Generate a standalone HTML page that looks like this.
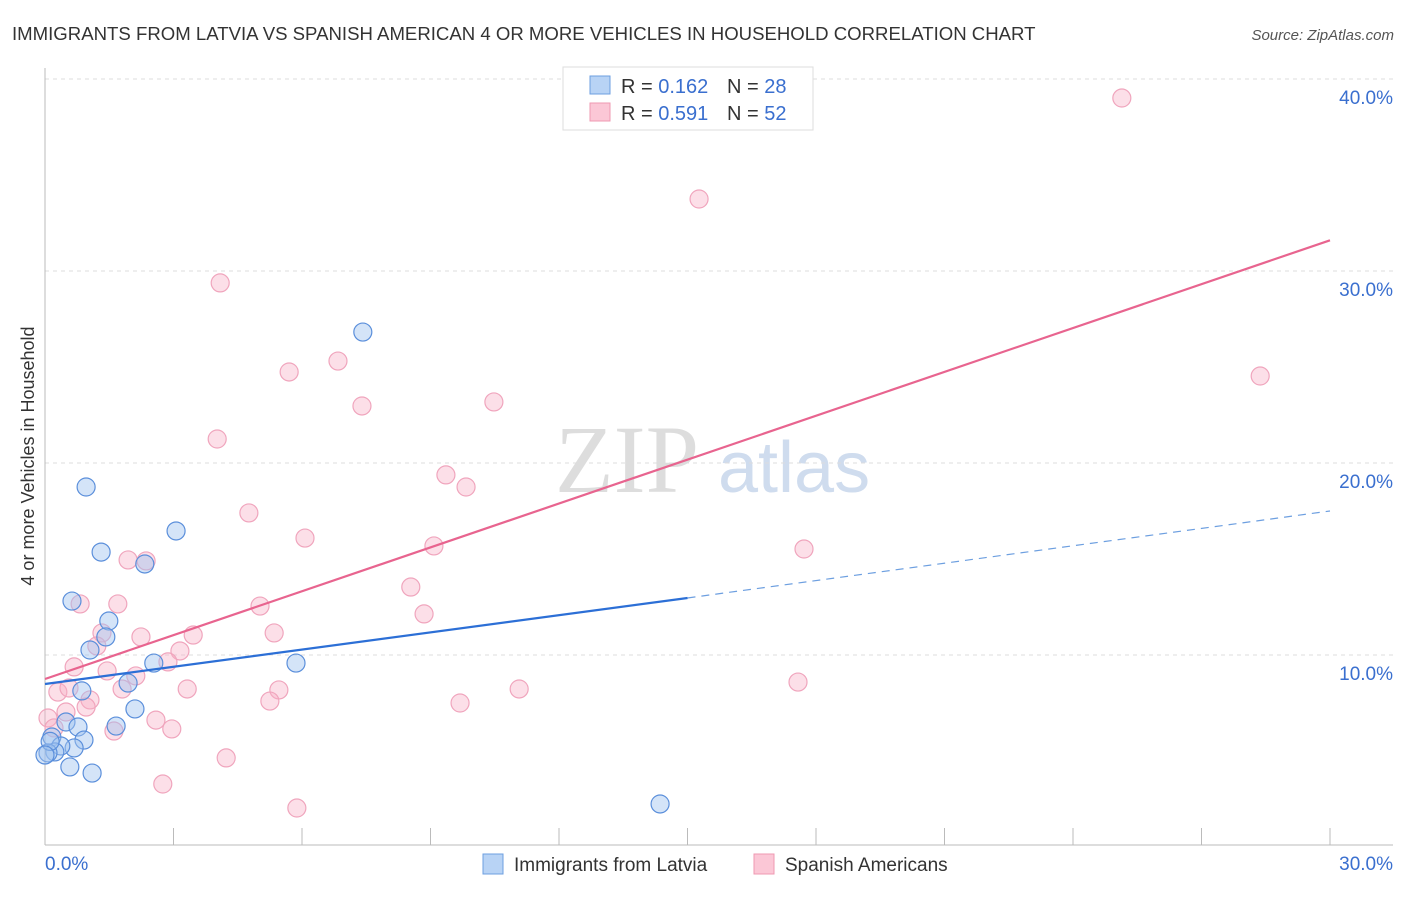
<!DOCTYPE html>
<html><head><meta charset="utf-8"><style>
body{margin:0;background:#fff;font-family:"Liberation Sans",sans-serif;}
</style></head><body>
<svg id="c" width="1406" height="892" xmlns="http://www.w3.org/2000/svg">
<text x="12" y="40" font-size="18.6" fill="#333">IMMIGRANTS FROM LATVIA VS SPANISH AMERICAN 4 OR MORE VEHICLES IN HOUSEHOLD CORRELATION CHART</text>
<text x="1394" y="40" font-size="15" fill="#555" font-style="italic" text-anchor="end">Source: ZipAtlas.com</text>
<text x="34" y="456" font-size="18" fill="#333" text-anchor="middle" transform="rotate(-90 34 456)">4 or more Vehicles in Household</text>
<text x="555" y="492" font-size="96" fill="#ddd" font-family="Liberation Serif,serif">ZIP</text>
<text x="718" y="492" font-size="72" fill="#cfdcee">atlas</text>
<g id="grid"></g><g id="marks"></g>
<g>
<rect x="563" y="67" width="250" height="63" fill="#fff" stroke="#ddd"/>
<rect x="590" y="76" width="20" height="18" fill="#b8d3f5" stroke="#6d9fe0"/>
<rect x="590" y="103" width="20" height="18" fill="#fbc7d6" stroke="#ef98b2"/>
<text x="621" y="93" font-size="20" fill="#333">R = <tspan fill="#3a6fcf">0.162</tspan><tspan x="727">N = </tspan><tspan fill="#3a6fcf">28</tspan></text>
<text x="621" y="120" font-size="20" fill="#333">R = <tspan fill="#3a6fcf">0.591</tspan><tspan x="727">N = </tspan><tspan fill="#3a6fcf">52</tspan></text>
</g>
<g>
<rect x="483" y="854" width="20" height="20" fill="#b8d3f5" stroke="#6d9fe0"/>
<text x="514" y="871" font-size="19" fill="#333">Immigrants from Latvia</text>
<rect x="754" y="854" width="20" height="20" fill="#fbc7d6" stroke="#ef98b2"/>
<text x="785" y="871" font-size="19" fill="#333">Spanish Americans</text>
</g>
</svg>
<script>
const blueX=[0.96,3.06,1.31,2.33,0.63,1.49,1.42,1.05,2.54,5.86,1.94,0.86,2.10,0.49,0.77,1.66,0.91,0.16,0.68,0.37,0.23,0.07,0.58,1.10,14.36,7.42,0.12,0];
const blueY=[18.75,16.46,15.36,14.74,12.81,11.77,10.94,10.26,9.58,9.58,8.54,8.13,7.19,6.51,6.25,6.30,5.57,5.73,5.16,5.26,4.95,4.90,4.17,3.85,2.24,26.82,5.5,4.79];
const pinkX=[25.14,15.27,4.09,5.70,6.84,7.40,10.48,4.02,9.36,9.83,4.76,6.07,9.08,17.72,1.94,2.36,8.54,0.82,1.70,5.02,8.85,28.37,1.33,2.24,5.35,3.46,1.21,3.15,2.87,0.68,1.45,2.12,1.80,3.32,5.46,11.07,17.58,0.30,0.56,5.25,1.05,9.69,0.96,0.49,2.59,2.96,1.61,0.07,0.21,4.23,2.75,5.88];
const pinkY=[39.01,33.75,29.38,24.74,25.31,22.97,23.18,21.25,19.38,18.75,17.40,16.09,15.68,15.52,14.95,14.90,13.54,12.66,12.66,12.55,12.14,24.53,11.15,10.94,11.15,11.04,10.47,10.21,9.64,9.38,9.17,8.91,8.23,8.23,8.18,8.23,8.59,8.07,8.28,7.60,7.66,7.50,7.29,7.03,6.61,6.15,6.04,6.72,6.20,4.64,3.28,2.03];
const yTicks=[10,20,30,40];
const yTickLabels=["10.0%","20.0%","30.0%","40.0%"];
const blueLine=[[0,8.49],[15.0,12.97]];
const blueDash=[[15.0,12.97],[30,17.5]];
const pinkLine=[[0,8.75],[30,31.6]];
const sx=v=>45+v/30*1285, sy=v=>847-v*19.2;
const NS="http://www.w3.org/2000/svg";
function mk(t,a,p){const e=document.createElementNS(NS,t);for(const k in a)e.setAttribute(k,a[k]);p.appendChild(e);return e;}
const g=document.getElementById('grid'),m=document.getElementById('marks');
yTicks.forEach((t,i)=>{
 const l=mk('line',{x1:45,x2:1393,y1:sy(t),y2:sy(t),stroke:'#ddd','stroke-dasharray':'4,4'},g);
 
 
 const tx=mk('text',{x:1393,y:sy(t)+25,'font-size':19,fill:'#3a6fcf','text-anchor':'end'},g);
 tx.textContent=yTickLabels[i];
 
 
});
const ax=mk('line',{x1:45,x2:45,y1:68,y2:845,stroke:'#bbb'},g);


const bx=mk('line',{x1:45,x2:1393,y1:845,y2:845,stroke:'#bbb'},g);


for(let i=0;i<=10;i++){const t=mk('line',{x1:sx(i*3),x2:sx(i*3),y1:828,y2:845,stroke:'#bbb'},g);
 
 }
const x0=mk('text',{x:45,y:870,'font-size':19,fill:'#3a6fcf'},g);x0.textContent='0.0%';


const x1=mk('text',{x:1393,y:870,'font-size':19,fill:'#3a6fcf','text-anchor':'end'},g);x1.textContent='30.0%';


pinkX.forEach((x,i)=>{const c=mk('circle',{cx:sx(x),cy:sy(pinkY[i]),r:9,fill:'rgba(248,175,198,0.4)',stroke:'#f0a5bd','stroke-width':1.2},m);
 
 });
blueX.forEach((x,i)=>{const c=mk('circle',{cx:sx(x),cy:sy(blueY[i]),r:9,fill:'rgba(160,195,240,0.45)',stroke:'#5b8fdb','stroke-width':1.2},m);
 
 });
function ln(p,col,dash,name,w){const l=mk('line',{x1:sx(p[0][0]),y1:sy(p[0][1]),x2:sx(p[1][0]),y2:sy(p[1][1]),stroke:col,'stroke-width':w},m);
 if(dash)l.setAttribute('stroke-dasharray',dash);
 
 }
ln(pinkLine,'#e8648f',null,'trend-spanish-american',2.2);
ln(blueLine,'#2c6fd6',null,'trend-latvia',2.2);
ln(blueDash,'#6d9fe0','8,6','trend-latvia-extrapolated',1.2);
</script>
</body></html>
